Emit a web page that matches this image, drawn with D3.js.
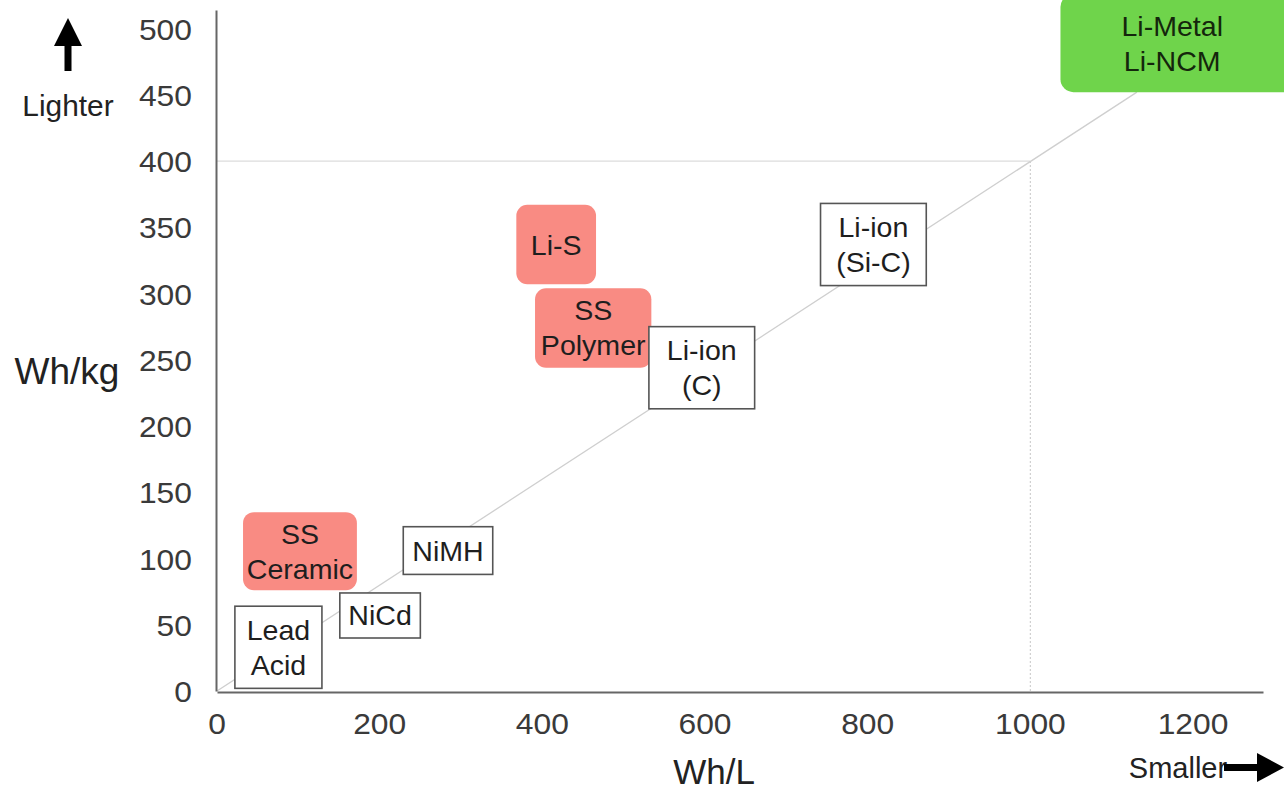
<!DOCTYPE html>
<html>
<head>
<meta charset="utf-8">
<script src="https://cdn.jsdelivr.net/npm/d3@7"></script>
<style>
  html, body { margin: 0; padding: 0; background: #fff; }
  svg { display: block; }
  text { font-family: "Liberation Sans", Arial, Helvetica, sans-serif; }
</style>
</head>
<body>
<svg id="chart" width="1284" height="792"></svg>
<script>
// ---- data ----
const xTicks = [0, 200, 400, 600, 800, 1000, 1200];
const yTicks = [0, 50, 100, 150, 200, 250, 300, 350, 400, 450, 500];
const xTitle = "Wh/L";
const yTitle = "Wh/kg";
const upLabel = "Lighter";
const rightLabel = "Smaller";

// battery technologies: label lines, Wh/L range, Wh/kg range, kind
const techNames  = [["Lead","Acid"], ["NiCd"], ["NiMH"], ["SS","Ceramic"], ["Li-S"], ["SS","Polymer"], ["Li-ion","(C)"], ["Li-ion","(Si-C)"], ["Li-Metal","Li-NCM"]];
const techWhL    = [[22,129], [151,250], [229,339], [32,172], [368,466], [391,534], [531,661], [742,872], [1037,1340]];
const techWhKg   = [[2,64], [40,74], [88,124], [76,135], [307,367], [244,304], [213,275], [306,368], [452,526]];
const techKind   = ["current","current","current","emerging","emerging","emerging","current","current","target"];

// reference target: 1000 Wh/L, 400 Wh/kg; trend line ratio
const targetWhL = 1000, targetWhKg = 400;
const trendLine = [[0,0],[1131,452]];

// ---- layout ----
const svg = d3.select("#chart");
const W = 1284, H = 792;
const x = d3.scaleLinear().domain([0, 1286]).range([217, 1263]);
const y = d3.scaleLinear().domain([0, 514]).range([691, 10]);

const fillOf = { current: "#ffffff", emerging: "#f98b83", target: "#6fd44b" };
const strokeOf = { current: "#555", emerging: "none", target: "none" };
const rxOf = { current: 0, emerging: 11, target: 13 };

function stext(g, txt, cx, cy, size, color, anchor, sx) {
  return g.append("text")
    .attr("transform", `translate(${cx},${cy}) scale(${sx || 1},1)`)
    .attr("text-anchor", anchor || "middle")
    .attr("font-size", size)
    .attr("fill", color)
    .text(txt);
}

// reference lines
svg.append("line")
  .attr("x1", x(0)).attr("x2", x(targetWhL))
  .attr("y1", y(targetWhKg)).attr("y2", y(targetWhKg))
  .attr("stroke", "#dcdcdc").attr("stroke-width", 1.2);
svg.append("line")
  .attr("x1", x(targetWhL)).attr("x2", x(targetWhL))
  .attr("y1", y(targetWhKg)).attr("y2", y(0))
  .attr("stroke", "#d0d0d0").attr("stroke-width", 1.2)
  .attr("stroke-dasharray", "2,2");
svg.append("path")
  .attr("d", d3.line().x(d => x(d[0])).y(d => y(d[1]))(trendLine))
  .attr("stroke", "#cfcfcf").attr("stroke-width", 1.3).attr("fill", "none");

// axes
const xAxis = svg.append("g").attr("transform", `translate(0,${y(0)+1})`)
  .call(d3.axisBottom(x).tickValues(xTicks).tickSize(0).tickPadding(0).tickFormat(d3.format("d")));
xAxis.select(".domain").attr("stroke", "#666").attr("stroke-width", 2);
xAxis.selectAll(".tick text").remove();
const yAxis = svg.append("g").attr("transform", `translate(${x(0)-1},0)`)
  .call(d3.axisLeft(y).tickValues(yTicks).tickSize(0).tickPadding(0).tickFormat(d3.format("d")));
yAxis.select(".domain").attr("stroke", "#666").attr("stroke-width", 2);
yAxis.selectAll(".tick text").remove();

const labels = svg.append("g");
xTicks.forEach(v => stext(labels, String(v), x(v), 734, 30, "#3a3a3a", "middle", 1.06));
yTicks.forEach(v => stext(labels, String(v), 192, y(v) + 11, 30, "#3a3a3a", "end", 1.06));

stext(labels, xTitle, 714, 784, 35, "#222");
stext(labels, yTitle, 67, 384, 37, "#222");
stext(labels, upLabel, 68, 116, 29, "#222", "middle", 1.03);
stext(labels, rightLabel, 1178, 778, 29, "#222");

// arrows
svg.append("path")
  .attr("d", "M68,18 L82,46 L71.5,46 L71.5,71 L64.5,71 L64.5,46 L54,46 Z")
  .attr("fill", "#000");
svg.append("path")
  .attr("d", "M1224,764 L1257,764 L1257,753 L1284,767.5 L1257,782 L1257,771 L1224,771 Z")
  .attr("fill", "#000");

// technology boxes
const techs = techNames.map((n, i) => ({ name: n, wl: techWhL[i], wk: techWhKg[i], kind: techKind[i] }));
const boxes = svg.append("g").selectAll("g").data(techs).join("g");
boxes.append("rect")
  .attr("x", d => x(d.wl[0]))
  .attr("y", d => y(d.wk[1]))
  .attr("width", d => x(d.wl[1]) - x(d.wl[0]))
  .attr("height", d => y(d.wk[0]) - y(d.wk[1]))
  .attr("rx", d => rxOf[d.kind])
  .attr("fill", d => fillOf[d.kind])
  .attr("stroke", d => strokeOf[d.kind])
  .attr("stroke-width", 1.6);
boxes.each(function(d) {
  const g = d3.select(this);
  const x0 = x(d.wl[0]), x1 = Math.min(x(d.wl[1]), W);
  const y1 = y(d.wk[0]);
  const cx = (x0 + x1) / 2;
  const cy = (y(d.wk[1]) + y1) / 2;
  const lh = 35;
  const n = d.name.length;
  d.name.forEach((t, k) => {
    const ly = cy + (k - (n - 1) / 2) * lh + 10;
    stext(g, t, cx, ly, 28, d.kind === "target" ? "#14260c" : "#1e1e1e", "middle", 1.02);
  });
});
</script>
</body>
</html>
